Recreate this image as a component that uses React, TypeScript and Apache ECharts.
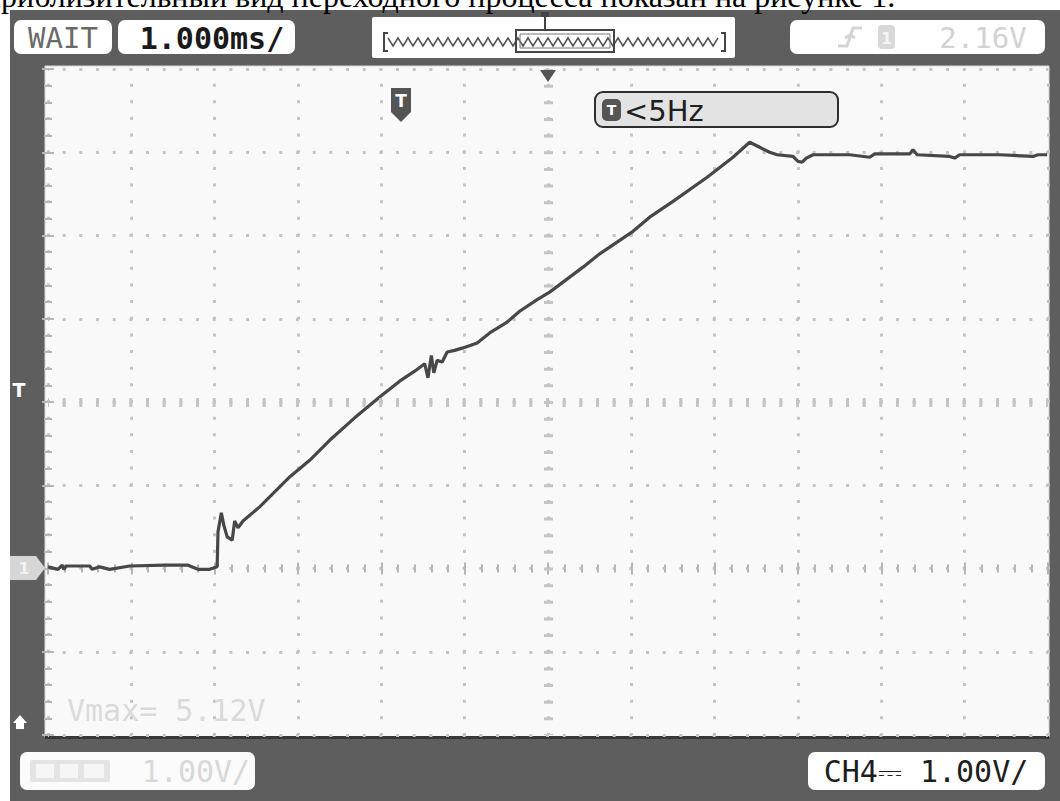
import React, { useEffect, useRef } from 'react';
import * as echarts from 'echarts';

// ---- data ----
// time in ms from the left edge of the screen (1.000 ms/div, 12 divisions)
const traceTimeMs = [
  0.0, 0.12, 0.17, 0.19, 0.22, 0.5, 0.53, 0.62, 0.74, 0.98, 1.4, 1.68, 1.8, 1.94, 2.03,
  2.04, 2.08, 2.11, 2.15, 2.21, 2.24, 2.28, 2.34, 2.54, 2.72, 2.9, 3.14, 3.38, 3.68, 3.98,
  4.22, 4.4, 4.52, 4.56, 4.6, 4.63, 4.67, 4.73, 4.79, 4.88, 4.98, 5.15, 5.3, 5.51, 5.66,
  5.87, 6.02, 6.42, 6.62, 7.02, 7.22, 7.5, 7.91, 8.22, 8.42, 8.54, 8.66, 8.75, 8.94, 9.0,
  9.05, 9.1, 9.18, 9.62, 9.86, 9.92, 10.34, 10.38, 10.43, 10.82, 10.88, 10.94, 11.42, 11.82,
  11.88, 11.99,
];
// volts (1.00 V/div, ground marker at 0 V)
const traceVolts = [
  0.02, -0.01, 0.04, -0.01, 0.03, 0.03, -0.01, 0.02, -0.01, 0.03, 0.04, 0.04, -0.01, -0.01, 0.02,
  0.44, 0.67, 0.52, 0.38, 0.34, 0.57, 0.49, 0.57, 0.74, 0.92, 1.1, 1.3, 1.54, 1.81, 2.06,
  2.25, 2.37, 2.46, 2.29, 2.56, 2.35, 2.5, 2.48, 2.6, 2.62, 2.65, 2.71, 2.83, 2.96, 3.09,
  3.23, 3.32, 3.62, 3.78, 4.05, 4.22, 4.41, 4.7, 4.94, 5.12, 5.06, 5.0, 4.97, 4.95, 4.89,
  4.88, 4.93, 4.97, 4.97, 4.94, 4.98, 4.98, 5.03, 4.97, 4.95, 4.93, 4.97, 4.97, 4.95,
  4.97, 4.97,
];
const timeDivisions = [0, 12];
const voltRange = [-2, 6];
const centerTime = 6;
const centerVolt = 2;

// ---- texts ----
const captionText = 'Приблизительный вид переходного процесса показан на рисунке 1.';
const statusText = 'WAIT';
const timebaseText = '1.000ms/';
const triggerLevelText = '2.16V';
const triggerChannelText = '1';
const freqText = '<5Hz';
const vmaxText = 'Vmax= 5.12V';
const mathScaleText = '1.00V/';
const channelScaleText = 'CH4⎓ 1.00V/';

const MONO = '"DejaVu Sans Mono", "Liberation Mono", monospace';
const SANS = '"DejaVu Sans", sans-serif';

function zigzag(x0: number, x1: number, yTop: number, yBot: number, step: number) {
  const pts: number[][] = [];
  let up = true;
  for (let x = x0; x <= x1; x += step) {
    pts.push([x, up ? yTop : yBot]);
    up = !up;
  }
  return pts;
}

export default function App() {
  const ref = useRef<HTMLDivElement>(null);

  useEffect(() => {
    if (!ref.current) return;
    const chart = echarts.init(ref.current, undefined, { renderer: 'svg' });

    const tickStyle = { color: '#b5b5b5', width: 2 };
    const gridDot = '#c4c4c4';

    const axisCommon = {
      type: 'value' as const,
      interval: 1,
      axisLine: { show: false },
      axisLabel: { show: false },
      axisTick: { show: true, inside: true, length: 6, lineStyle: tickStyle },
      minorTick: { show: true, splitNumber: 5, length: 4, lineStyle: tickStyle },
    };

    const graphic: any[] = [
      // outer scope frame
      { type: 'rect', z: -20, shape: { x: 10, y: 10, width: 1050, height: 791 }, style: { fill: '#5e5e5e' } },
      // plot background
      { type: 'rect', z: -19, shape: { x: 45, y: 66, width: 1004, height: 671 }, style: { fill: '#f9f9f9', stroke: '#d6d6d6', lineWidth: 1 } },
      { type: 'rect', z: -18, shape: { x: 45, y: 736, width: 1004, height: 3 }, style: { fill: '#383838' } },
      // caption text of the page (clipped at the top, as in the photo)
      { type: 'text', z: 50, x: -22, y: 12, style: { text: captionText, fontSize: 32, fontFamily: '"Liberation Serif", "Times New Roman", serif', fill: '#000', textAlign: 'left', textVerticalAlign: 'bottom' } },
      // WAIT box
      { type: 'rect', z: 50, shape: { x: 14, y: 20, width: 98, height: 34, r: 7 }, style: { fill: '#ffffff' } },
      { type: 'text', z: 51, x: 63, y: 38, style: { text: statusText, fontSize: 29, fontFamily: MONO, fill: '#6a6a6a', textAlign: 'center', textVerticalAlign: 'middle' } },
      // timebase box
      { type: 'rect', z: 50, shape: { x: 118, y: 20, width: 177, height: 34, r: 7 }, style: { fill: '#ffffff' } },
      { type: 'text', z: 51, x: 212, y: 38, style: { text: timebaseText, fontSize: 30, fontWeight: 'bold', fontFamily: MONO, fill: '#1a1a1a', textAlign: 'center', textVerticalAlign: 'middle' } },
      // memory overview box
      { type: 'rect', z: 50, shape: { x: 372, y: 17, width: 363, height: 41, r: 2 }, style: { fill: '#ffffff' } },
      { type: 'polyline', z: 51, shape: { points: [[388, 33], [384, 33], [384, 51], [388, 51]] }, style: { stroke: '#444', lineWidth: 2, fill: 'none' } },
      { type: 'polyline', z: 51, shape: { points: [[721, 33], [725, 33], [725, 51], [721, 51]] }, style: { stroke: '#444', lineWidth: 2, fill: 'none' } },
      { type: 'polyline', z: 51, shape: { points: zigzag(388, 720, 38, 46, 5) }, style: { stroke: '#555', lineWidth: 1.5, fill: 'none' } },
      { type: 'rect', z: 52, shape: { x: 516, y: 30, width: 98, height: 22 }, style: { fill: 'none', stroke: '#444', lineWidth: 2 } },
      { type: 'rect', z: 52, shape: { x: 520, y: 34, width: 90, height: 14 }, style: { fill: 'none', stroke: '#777', lineWidth: 1 } },
      { type: 'line', z: 52, shape: { x1: 545, y1: 14, x2: 545, y2: 30 }, style: { stroke: '#444', lineWidth: 2 } },
      { type: 'rect', z: 52, shape: { x: 541, y: 12, width: 8, height: 5 }, style: { fill: '#444' } },
      // trigger box (faded)
      { type: 'rect', z: 50, shape: { x: 790, y: 20, width: 255, height: 34, r: 7 }, style: { fill: '#ffffff' } },
      { type: 'polyline', z: 51, shape: { points: [[838, 46], [847, 46], [853, 28], [862, 28]] }, style: { stroke: '#d4d4d4', lineWidth: 3, fill: 'none' } },
      { type: 'polyline', z: 51, shape: { points: [[845, 38], [850, 35], [855, 38]] }, style: { stroke: '#d4d4d4', lineWidth: 3, fill: 'none' } },
      { type: 'rect', z: 51, shape: { x: 878, y: 25, width: 17, height: 24, r: 4 }, style: { fill: '#d8d8d8' } },
      { type: 'text', z: 52, x: 886.5, y: 38, style: { text: triggerChannelText, fontSize: 16, fontWeight: 'bold', fontFamily: SANS, fill: '#f4f4f4', textAlign: 'center', textVerticalAlign: 'middle' } },
      { type: 'text', z: 51, x: 983, y: 38, style: { text: triggerLevelText, fontSize: 29, fontFamily: MONO, fill: '#d2d2d2', textAlign: 'center', textVerticalAlign: 'middle' } },
      // trigger position marker on top edge
      { type: 'polygon', z: 60, shape: { points: [[540, 70], [556, 70], [548, 82]] }, style: { fill: '#555' } },
      // T shield marker
      { type: 'polygon', z: 60, shape: { points: [[391, 88], [411, 88], [411, 112], [401, 122], [391, 112]] }, style: { fill: '#555' } },
      { type: 'text', z: 61, x: 401, y: 101, style: { text: 'T', fontSize: 17, fontWeight: 'bold', fontFamily: SANS, fill: '#ffffff', textAlign: 'center', textVerticalAlign: 'middle' } },
      // frequency box
      { type: 'rect', z: 60, shape: { x: 595, y: 92, width: 243, height: 35, r: 8 }, style: { fill: '#e3e3e3', stroke: '#2e2e2e', lineWidth: 2 } },
      { type: 'rect', z: 61, shape: { x: 602, y: 99, width: 19, height: 22, r: 5 }, style: { fill: '#555' } },
      { type: 'text', z: 62, x: 611.5, y: 110, style: { text: 'T', fontSize: 14, fontWeight: 'bold', fontFamily: SANS, fill: '#ffffff', textAlign: 'center', textVerticalAlign: 'middle' } },
      { type: 'text', z: 61, x: 624, y: 111, style: { text: freqText, fontSize: 29, fontFamily: SANS, fill: '#1e1e1e', textAlign: 'left', textVerticalAlign: 'middle' } },
      // left side markers
      { type: 'text', z: 60, x: 19, y: 390, style: { text: 'T', fontSize: 19, fontWeight: 'bold', fontFamily: SANS, fill: '#ffffff', textAlign: 'center', textVerticalAlign: 'middle' } },
      { type: 'polygon', z: 60, shape: { points: [[10, 556], [36, 556], [45, 568], [36, 580], [10, 580]] }, style: { fill: '#d6d6d6' } },
      { type: 'text', z: 61, x: 24, y: 568, style: { text: '1', fontSize: 16, fontWeight: 'bold', fontFamily: SANS, fill: '#f2f2f2', textAlign: 'center', textVerticalAlign: 'middle' } },
      { type: 'polygon', z: 60, shape: { points: [[13, 723], [20, 715], [27, 723], [24, 723], [24, 729], [16, 729], [16, 723]] }, style: { fill: '#ffffff' } },
      // Vmax readout (faded)
      { type: 'text', z: 60, x: 67, y: 710, style: { text: vmaxText, fontSize: 30, fontFamily: MONO, fill: '#dadada', textAlign: 'left', textVerticalAlign: 'middle' } },
      // bottom-left box (faded math channel)
      { type: 'rect', z: 50, shape: { x: 20, y: 752, width: 235, height: 38, r: 7 }, style: { fill: '#fbfbfb' } },
      { type: 'rect', z: 51, shape: { x: 30, y: 760, width: 80, height: 22, r: 2 }, style: { fill: '#e4e4e4' } },
      { type: 'rect', z: 52, shape: { x: 36, y: 764, width: 18, height: 14 }, style: { fill: '#f6f6f6' } },
      { type: 'rect', z: 52, shape: { x: 60, y: 764, width: 18, height: 14 }, style: { fill: '#f6f6f6' } },
      { type: 'rect', z: 52, shape: { x: 84, y: 764, width: 20, height: 14 }, style: { fill: '#f6f6f6' } },
      { type: 'text', z: 51, x: 196, y: 771, style: { text: mathScaleText, fontSize: 30, fontFamily: MONO, fill: '#d8d8d8', textAlign: 'center', textVerticalAlign: 'middle' } },
      // bottom-right channel box
      { type: 'rect', z: 50, shape: { x: 808, y: 752, width: 237, height: 38, r: 7 }, style: { fill: '#ffffff' } },
      { type: 'text', z: 51, x: 926, y: 771, style: { text: channelScaleText, fontSize: 30, fontFamily: MONO, fill: '#1e1e1e', textAlign: 'center', textVerticalAlign: 'middle' } },
    ];

    const option: any = {
      animation: false,
      backgroundColor: '#ffffff',
      grid: { left: 48, top: 69, width: 1000, height: 666, show: false },
      xAxis: [
        {
          ...axisCommon,
          min: timeDivisions[0],
          max: timeDivisions[1],
          position: 'bottom',
          splitLine: { show: true, lineStyle: { color: gridDot, width: 3, type: [3, 13.65], dashOffset: 1.5 } },
        },
        {
          ...axisCommon,
          min: timeDivisions[0],
          max: timeDivisions[1],
          position: 'top',
          splitLine: { show: false },
        },
      ],
      yAxis: [
        {
          ...axisCommon,
          min: voltRange[0],
          max: voltRange[1],
          position: 'left',
          splitLine: { show: true, lineStyle: { color: gridDot, width: 3, type: [3, 13.6667], dashOffset: 1.5 } },
        },
        {
          ...axisCommon,
          min: voltRange[0],
          max: voltRange[1],
          position: 'right',
          splitLine: { show: false },
        },
      ],
      series: [
        {
          type: 'line',
          z: 1,
          data: [[centerTime, centerVolt]],
          showSymbol: false,
          symbol: 'none',
          lineStyle: { width: 0 },
          silent: true,
          markLine: {
            silent: true,
            symbol: ['none', 'none'],
            label: { show: false },
            data: [
              { xAxis: centerTime, lineStyle: { color: gridDot, width: 9, type: [3, 13.65], dashOffset: 1.5 } },
              { yAxis: centerVolt, lineStyle: { color: gridDot, width: 9, type: [3, 13.6667], dashOffset: 1.5 } },
            ],
          },
        },
        {
          type: 'line',
          z: 3,
          data: traceTimeMs.map((t, i) => [t, traceVolts[i]]),
          showSymbol: false,
          symbol: 'none',
          lineStyle: { color: '#474747', width: 3.2 },
        },
      ],
      graphic,
    };

    chart.setOption(option);
    return () => chart.dispose();
  }, []);

  return <div ref={ref} style={{ position: 'absolute', left: 0, top: 0, width: 1060, height: 801 }} />;
}
